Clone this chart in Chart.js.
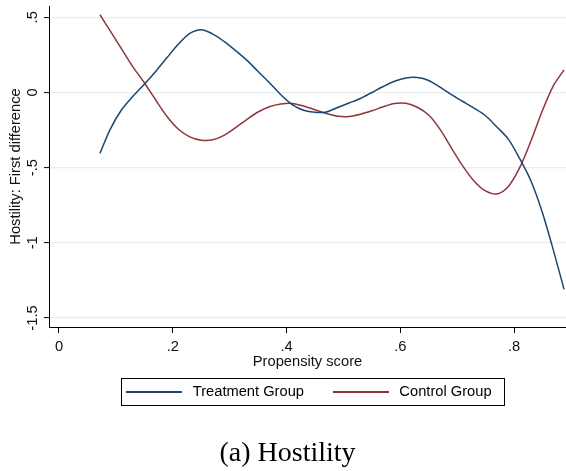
<!DOCTYPE html>
<html>
<head>
<meta charset="utf-8">
<script src="https://cdn.jsdelivr.net/npm/chart.js@4/dist/chart.umd.min.js"></script>
<style>
  html, body { margin: 0; padding: 0; background: #fff; }
  #wrap { width: 566px; height: 471px; }
</style>
</head>
<body>
<div id="wrap"><canvas id="c" width="566" height="471"></canvas></div>
<script>
// ---- data ----
const propensity = [0.072, 0.09, 0.11, 0.13, 0.15, 0.17, 0.19, 0.21, 0.23, 0.25, 0.27, 0.29, 0.31, 0.33, 0.35, 0.37, 0.39, 0.41, 0.43, 0.45, 0.47, 0.49, 0.51, 0.53, 0.55, 0.57, 0.59, 0.61, 0.63, 0.65, 0.67, 0.69, 0.71, 0.73, 0.75, 0.77, 0.79, 0.81, 0.83, 0.85, 0.87, 0.888];
const treatment = [-0.405, -0.245, -0.115, -0.025, 0.055, 0.14, 0.232, 0.322, 0.393, 0.418, 0.39, 0.34, 0.28, 0.215, 0.14, 0.065, -0.015, -0.08, -0.118, -0.132, -0.13, -0.10, -0.07, -0.04, 0.0, 0.04, 0.075, 0.097, 0.10, 0.08, 0.035, -0.015, -0.06, -0.105, -0.155, -0.23, -0.31, -0.44, -0.59, -0.80, -1.06, -1.31];
const control = [0.517, 0.41, 0.29, 0.17, 0.065, -0.05, -0.16, -0.245, -0.295, -0.318, -0.315, -0.285, -0.235, -0.18, -0.13, -0.095, -0.077, -0.073, -0.09, -0.115, -0.14, -0.158, -0.16, -0.145, -0.122, -0.095, -0.073, -0.072, -0.098, -0.15, -0.245, -0.37, -0.49, -0.59, -0.655, -0.675, -0.625, -0.50, -0.32, -0.12, 0.05, 0.15];
const seriesNames = ['Treatment Group', 'Control Group'];
const xTickValues = [0, 0.2, 0.4, 0.6, 0.8];
const xTickLabels = ['0', '.2', '.4', '.6', '.8'];
const yTickValues = [-1.5, -1, -0.5, 0, 0.5];
const yTickLabels = ['-1.5', '-1', '-.5', '0', '.5'];
const xTitle = 'Propensity score';
const yTitle = 'Hostility: First difference';
const caption = '(a) Hostility';

// ---- styling ----
const NAVY = '#1a476f';
const MAROON = '#90353b';
const FS = 14.7;
Chart.defaults.font.family = "'Liberation Sans', Arial, sans-serif";
Chart.defaults.color = '#111';

function swatch(color) {
  const c = document.createElement('canvas');
  c.width = 56; c.height = 2;
  const g = c.getContext('2d');
  g.fillStyle = color; g.fillRect(0, 0, 56, 2);
  return c;
}

const legendFrame = {
  id: 'legendFrame',
  afterDraw(chart) {
    const hb = chart.legend && chart.legend.legendHitBoxes;
    if (!hb || !hb.length) return;
    const ctx = chart.ctx;
    const last = hb[hb.length - 1];
    const l = Math.round(hb[0].left - 2);
    const r = Math.round(last.left + last.width + 12);
    const cy = hb[0].top + hb[0].height / 2;
    const t = Math.round(cy - 14);
    ctx.save();
    ctx.strokeStyle = '#000';
    ctx.lineWidth = 1;
    ctx.strokeRect(l + 0.5, t + 0.5, r - l, 27);
    ctx.restore();
  }
};

new Chart(document.getElementById('c'), {
  type: 'line',
  data: {
    datasets: [
      { label: seriesNames[0], data: propensity.map((x, i) => ({ x, y: treatment[i] })), borderColor: NAVY, backgroundColor: NAVY, borderWidth: 1.5, pointRadius: 0, tension: 0.3, fill: false },
      { label: seriesNames[1], data: propensity.map((x, i) => ({ x, y: control[i] })), borderColor: MAROON, backgroundColor: MAROON, borderWidth: 1.5, pointRadius: 0, tension: 0.3, fill: false }
    ]
  },
  options: {
    responsive: false,
    animation: false,
    devicePixelRatio: 1,
    layout: { padding: { left: 9, top: 6, right: 0, bottom: 0 } },
    scales: {
      x: {
        type: 'linear',
        min: -0.01758,
        max: 0.8914,
        afterBuildTicks: s => { s.ticks = xTickValues.map(v => ({ value: v })); },
        afterFit: s => { s.height = 31.65; },
        ticks: {
          callback: (v, i) => xTickLabels[i],
          font: { size: FS, lineHeight: 1 },
          color: '#111',
          padding: 7,
          maxRotation: 0,
          autoSkip: false
        },
        grid: { drawOnChartArea: false, drawTicks: true, tickLength: 6, tickColor: '#000', tickWidth: 1 },
        border: { display: true, color: '#000', width: 1 },
        title: { display: true, text: xTitle, font: { size: FS, lineHeight: 1 }, color: '#111', padding: { top: 0, bottom: -10.2 } }
      },
      y: {
        type: 'linear',
        min: -1.5599,
        max: 0.5752,
        afterBuildTicks: s => { s.ticks = yTickValues.map(v => ({ value: v })); },
        afterFit: s => { s.width = 40; },
        ticks: {
          callback: (v, i) => yTickLabels[i],
          font: { size: FS, lineHeight: 1 },
          color: '#111',
          minRotation: 90,
          maxRotation: 90,
          crossAlign: 'center',
          padding: -1.67,
          autoSkip: false
        },
        grid: { color: '#e6eef0', lineWidth: 1.2, drawTicks: true, tickLength: 5, tickColor: '#000', tickWidth: 1 },
        border: { display: true, color: '#000', width: 1 },
        title: { display: true, text: yTitle, font: { size: FS, lineHeight: 1 }, color: '#111', padding: { top: -0.85, bottom: 0 } }
      }
    },
    plugins: {
      legend: {
        display: true,
        position: 'bottom',
        fullSize: false,
        labels: {
          usePointStyle: true,
          pointStyleWidth: 62,
          padding: 26,
          color: '#111',
          font: { size: FS },
          generateLabels: chart => chart.data.datasets.map((ds, i) => ({
            text: ds.label,
            fillStyle: ds.borderColor,
            strokeStyle: ds.borderColor,
            lineWidth: 0,
            pointStyle: swatch(ds.borderColor),
            hidden: false,
            datasetIndex: i
          }))
        }
      },
      title: {
        display: true,
        position: 'bottom',
        text: caption,
        color: '#000',
        font: { family: "'Liberation Serif', 'Times New Roman', serif", size: 28, weight: 'normal', lineHeight: 1 },
        padding: { top: 30.65, bottom: 3 }
      },
      tooltip: { enabled: false }
    }
  },
  plugins: [legendFrame]
});
</script>
</body>
</html>
